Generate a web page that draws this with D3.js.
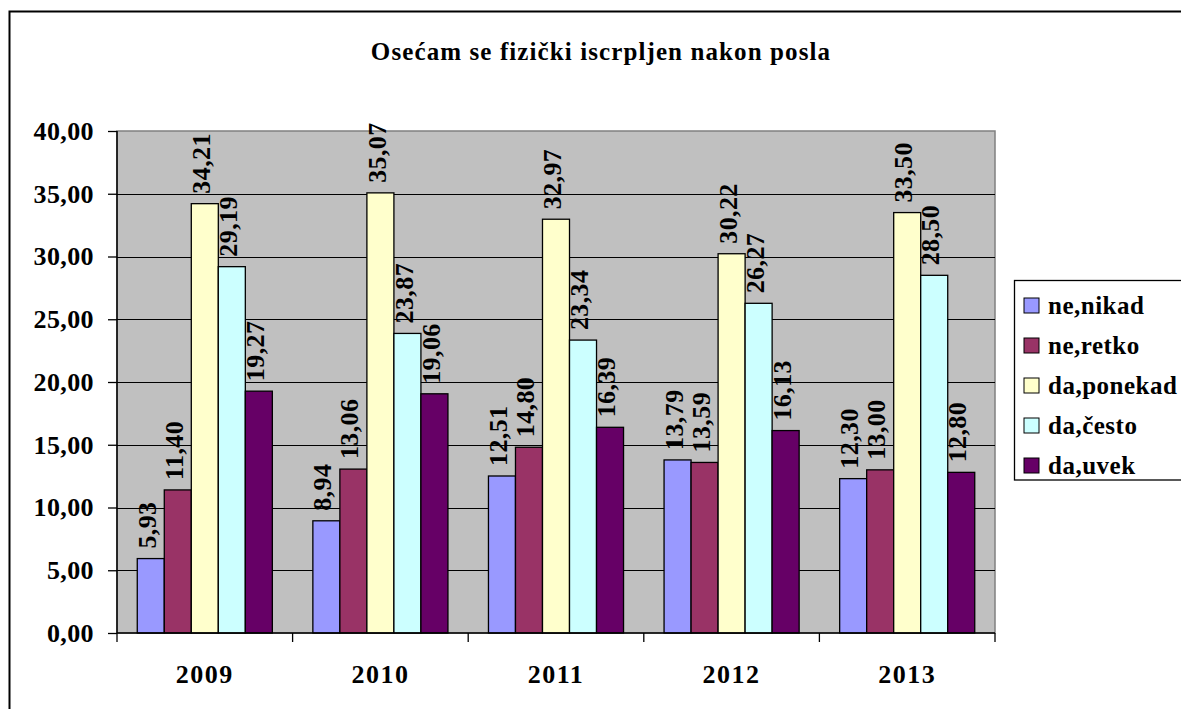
<!DOCTYPE html>
<html><head><meta charset="utf-8">
<script src="https://cdn.jsdelivr.net/npm/d3@7"></script>
<style>body{margin:0;background:#fff}svg{display:block}</style>
</head><body><svg id="c" width="1181" height="709" style="font-family:'Liberation Serif','DejaVu Serif',serif;font-weight:bold"></svg>
<script>
const title = "Osećam se fizički iscrpljen nakon posla";
const years = ["2009","2010","2011","2012","2013"];
const seriesNames = ["ne,nikad","ne,retko","da,ponekad","da,često","da,uvek"];
const seriesColors = ["#9999FF","#993366","#FFFFCC","#CCFFFF","#660066"];
const neNikad = [5.93, 8.94, 12.51, 13.79, 12.30];
const neRetko = [11.40, 13.06, 14.80, 13.59, 13.00];
const daPonekad = [34.21, 35.07, 32.97, 30.22, 33.50];
const daCesto = [29.19, 23.87, 23.34, 26.27, 28.50];
const daUvek = [19.27, 19.06, 16.39, 16.13, 12.80];
const yTicks = [0,5,10,15,20,25,30,35,40];
const seriesValues = [neNikad, neRetko, daPonekad, daCesto, daUvek];

const FONT = "'Liberation Serif','DejaVu Serif',serif";
const svg = d3.select("#c");
const fmt = v => v.toFixed(2).replace(".", ",");
const L = 117, R = 995, T = 131, B = 633;
const styleText = sel => sel.style("font-family", FONT).style("font-weight","bold").attr("fill","#000");

svg.append("rect").attr("x",9.5).attr("y",11.5).attr("width",1200).attr("height",720)
  .attr("fill","#fff").attr("stroke","#000").attr("stroke-width",2);

svg.append("text").attr("x",601).attr("y",60).attr("text-anchor","middle")
  .call(styleText).style("font-size","25px").style("letter-spacing","1.1px").text(title);

const x0 = d3.scaleBand().domain(years).range([L,R]).paddingInner(0).paddingOuter(0);
const gap = 1.5;
const bw = x0.bandwidth()/(seriesNames.length+gap);
const x1 = d3.scaleBand().domain(seriesNames).range([bw*gap/2, x0.bandwidth()-bw*gap/2]);
const y = d3.scaleLinear().domain([0,40]).range([B,T]);

svg.append("rect").attr("x",L).attr("y",T).attr("width",R-L).attr("height",B-T)
  .attr("fill","#C0C0C0").attr("stroke","#808080").attr("stroke-width",1.5);

svg.append("g").selectAll("line").data(yTicks.slice(1,-1)).join("line")
  .attr("x1",L).attr("x2",R).attr("y1",d=>Math.round(y(d))+0.5).attr("y2",d=>Math.round(y(d))+0.5)
  .attr("stroke","#000").attr("stroke-width",1.2);

const groups = svg.append("g").selectAll("g").data(years).join("g")
  .attr("transform",d=>`translate(${x0(d)},0)`);
groups.each(function(yr, yi){
  const g = d3.select(this);
  seriesNames.forEach((s, si) => {
    const v = seriesValues[si][yi];
    g.append("rect").attr("x",x1(s)).attr("y",y(v)).attr("width",x1.bandwidth()).attr("height",B-y(v))
      .attr("fill",seriesColors[si]).attr("stroke","#000").attr("stroke-width",1.3);
  });
  seriesNames.forEach((s, si) => {
    const v = seriesValues[si][yi];
    const cx = x1(s) + x1.bandwidth()/2 - 4;
    const cy = y(v) - 10;
    g.append("text").attr("transform",`translate(${cx},${cy}) rotate(-90)`)
      .attr("dy","0.35em").call(styleText).style("font-size","26px").style("letter-spacing","0.4px").text(fmt(v));
  });
});

const yAxis = svg.append("g").attr("transform",`translate(${L},0)`)
  .call(d3.axisLeft(y).tickValues(yTicks).tickSize(9).tickPadding(14).tickFormat(fmt));
yAxis.select(".domain").attr("stroke","#000").attr("stroke-width",1.5).attr("d",`M0,${T}V${B}`);
yAxis.selectAll(".tick line").attr("stroke","#000").attr("stroke-width",1.3);
yAxis.selectAll("text").call(styleText).style("font-size","26px").style("letter-spacing","0.4px").attr("dy","0.32em");

const xAxis = svg.append("g").attr("transform",`translate(0,${B})`)
  .call(d3.axisBottom(x0).tickSize(0).tickPadding(32));
xAxis.select(".domain").attr("stroke","#000").attr("stroke-width",1.5).attr("d",`M${L},0H${R}`);
xAxis.selectAll("text").call(styleText).style("font-size","26px").style("letter-spacing","1.5px");
svg.append("g").selectAll("line").data(years.concat(["end"])).join("line")
  .attr("x1",(d,i)=>L+i*x0.bandwidth()).attr("x2",(d,i)=>L+i*x0.bandwidth())
  .attr("y1",B).attr("y2",B+9).attr("stroke","#000").attr("stroke-width",1.3);

const lg = svg.append("g");
lg.append("rect").attr("x",1014.5).attr("y",280.5).attr("width",200).attr("height",199.5)
  .attr("fill","#fff").attr("stroke","#000").attr("stroke-width",1.3);
seriesNames.forEach((s,i)=>{
  const cy = 305 + i*40;
  lg.append("rect").attr("x",1024).attr("y",cy-7).attr("width",15).attr("height",15)
    .attr("fill",seriesColors[i]).attr("stroke","#000").attr("stroke-width",1);
  lg.append("text").attr("x",1048).attr("y",cy).attr("dy","0.35em").call(styleText).style("font-size","25px").style("letter-spacing","0.5px").text(s);
});
</script></body></html>
